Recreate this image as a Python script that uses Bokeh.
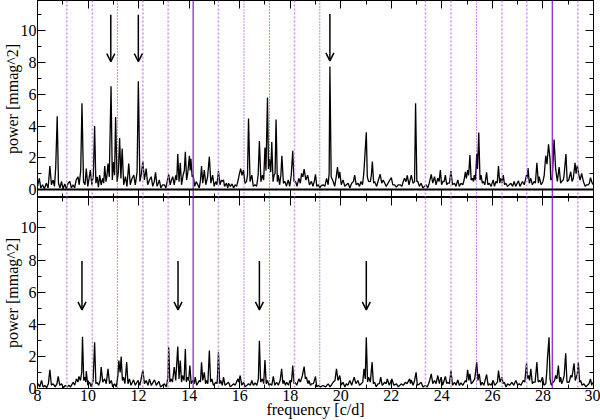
from bokeh.plotting import figure
from bokeh.layouts import column
from bokeh.models import (Span, Arrow, OpenHead, ColumnDataSource, FixedTicker, LinearAxis, Range1d,
                          CustomJSTickFormatter)
from bokeh.embed import file_html
from bokeh.resources import INLINE

# ---------------- data ----------------
top_freq = [8.00, 8.07, 8.13, 8.20, 8.27, 8.35, 8.42, 8.49, 8.55, 8.62, 8.67, 8.72, 8.78, 8.83, 8.89, 8.95, 9.01, 9.08, 9.14, 9.21,
            9.28, 9.34, 9.41, 9.47, 9.53, 9.60, 9.65, 9.71, 9.76, 9.82, 9.88, 9.93, 9.99, 10.04, 10.09, 10.15, 10.21, 10.26, 10.31, 10.36,
            10.41, 10.46, 10.52, 10.58, 10.62, 10.66, 10.71, 10.75, 10.79, 10.84, 10.91, 10.96, 11.01, 11.05, 11.09, 11.15, 11.20, 11.25, 11.30, 11.35,
            11.41, 11.48, 11.54, 11.61, 11.67, 11.74, 11.81, 11.87, 11.94, 11.99, 12.05, 12.11, 12.17, 12.23, 12.30, 12.36, 12.43, 12.50, 12.56, 12.62,
            12.67, 12.73, 12.78, 12.82, 12.88, 12.95, 13.02, 13.08, 13.13, 13.19, 13.25, 13.30, 13.35, 13.41, 13.47, 13.51, 13.55, 13.60, 13.65, 13.70,
            13.76, 13.81, 13.85, 13.90, 13.95, 14.01, 14.04, 14.07, 14.12, 14.16, 14.22, 14.28, 14.34, 14.40, 14.45, 14.49, 14.54, 14.60, 14.66, 14.73,
            14.80, 14.86, 14.93, 14.99, 15.05, 15.10, 15.16, 15.22, 15.28, 15.32, 15.36, 15.40, 15.47, 15.53, 15.56, 15.63, 15.70, 15.76, 15.82, 15.88,
            15.94, 15.99, 16.04, 16.09, 16.15, 16.21, 16.27, 16.31, 16.35, 16.41, 16.48, 16.54, 16.61, 16.67, 16.73, 16.78, 16.84, 16.90, 16.95, 17.00,
            17.04, 17.10, 17.14, 17.18, 17.23, 17.27, 17.32, 17.36, 17.40, 17.44, 17.49, 17.53, 17.58, 17.63, 17.67, 17.73, 17.79, 17.85, 17.92, 17.98,
            18.04, 18.10, 18.15, 18.21, 18.27, 18.34, 18.40, 18.45, 18.50, 18.55, 18.62, 18.69, 18.76, 18.84, 18.90, 18.95, 19.00, 19.05, 19.11, 19.17,
            19.23, 19.30, 19.37, 19.44, 19.50, 19.54, 19.57, 19.62, 19.70, 19.76, 19.82, 19.87, 19.92, 19.96, 20.02, 20.09, 20.16, 20.22, 20.29, 20.36,
            20.43, 20.50, 20.55, 20.61, 20.68, 20.74, 20.80, 20.86, 20.91, 20.95, 21.01, 21.05, 21.10, 21.17, 21.21, 21.25, 21.30, 21.34, 21.42, 21.49,
            21.56, 21.62, 21.68, 21.74, 21.80, 21.87, 21.94, 22.00, 22.06, 22.13, 22.20, 22.27, 22.35, 22.42, 22.47, 22.52, 22.58, 22.63, 22.70, 22.79,
            22.86, 22.92, 22.96, 23.01, 23.05, 23.11, 23.18, 23.25, 23.31, 23.38, 23.44, 23.50, 23.58, 23.64, 23.71, 23.77, 23.84, 23.89, 23.94, 23.99,
            24.04, 24.09, 24.14, 24.19, 24.23, 24.30, 24.36, 24.42, 24.50, 24.56, 24.63, 24.69, 24.76, 24.83, 24.88, 24.93, 24.97, 25.02, 25.06, 25.11,
            25.16, 25.21, 25.25, 25.28, 25.33, 25.38, 25.41, 25.46, 25.51, 25.55, 25.60, 25.64, 25.70, 25.77, 25.82, 25.88, 25.95, 26.03, 26.08, 26.14,
            26.19, 26.24, 26.29, 26.34, 26.38, 26.43, 26.48, 26.53, 26.60, 26.73, 26.80, 26.86, 26.92, 27.03, 27.09, 27.19, 27.26, 27.35, 27.38, 27.41,
            27.46, 27.52, 27.58, 27.65, 27.70, 27.76, 27.82, 27.85, 27.93, 28.00, 28.05, 28.11, 28.16, 28.22, 28.28, 28.31, 28.37, 28.44, 28.50, 28.57,
            28.64, 28.70, 28.74, 28.80, 28.83, 28.91, 28.96, 29.02, 29.10, 29.15, 29.20, 29.27, 29.31, 29.36, 29.42, 29.47, 29.53, 29.60, 29.67, 29.73,
            29.79, 29.84, 29.88, 29.95, 30.00]
top_power = [0.2, 0.71, 0.1, 0.3, 0.05, 0.4, 0.1, 1.48, 0.3, 0.6, 0.2, 1.36, 4.61, 0.4, 0.1, 0.51, 0.05, 0.35, 0.05, 0.4,
             0.51, 0.1, 0.3, 0.1, 0.6, 0.81, 0.3, 1.2, 5.43, 0.5, 0.3, 1.32, 0.2, 0.7, 1.22, 0.3, 0.9, 4.0, 0.4, 0.8,
             0.15, 0.91, 0.3, 0.7, 0.4, 1.48, 0.5, 0.9, 1.63, 0.8, 6.5, 0.6, 1.73, 0.9, 4.57, 0.5, 1.1, 3.25, 0.7, 2.58,
             0.3, 0.81, 0.2, 1.63, 0.3, 0.7, 0.91, 0.3, 1.1, 6.81, 0.5, 1.0, 1.77, 0.6, 1.32, 0.3, 0.6, 0.81, 0.2, 0.5,
             1.08, 0.2, 0.4, 0.61, 0.1, 0.3, 0.3, 0.1, 0.5, 0.96, 0.3, 0.6, 0.81, 0.3, 0.9, 0.6, 2.24, 0.5, 1.69, 0.3,
             0.9, 1.2, 2.38, 0.6, 1.1, 2.13, 1.2, 1.93, 0.8, 0.91, 0.2, 0.5, 0.3, 0.1, 0.6, 1.48, 0.4, 1.22, 0.3, 0.8,
             2.07, 0.4, 0.91, 0.2, 0.5, 0.3, 1.16, 0.3, 0.6, 0.51, 0.61, 0.2, 0.4, 0.1, 0.4, 0.2, 0.35, 0.1, 0.3, 0.2,
             0.6, 1.0, 1.32, 0.9, 1.22, 0.4, 0.5, 0.9, 4.47, 0.5, 0.91, 0.2, 0.3, 0.2, 0.9, 3.05, 0.5, 0.91, 0.6, 2.64,
             1.2, 5.79, 1.3, 1.93, 1.1, 2.99, 0.5, 0.91, 1.0, 4.41, 0.5, 0.91, 0.3, 0.9, 2.13, 0.4, 0.51, 0.2, 0.61, 0.2,
             0.9, 2.44, 0.5, 0.51, 0.2, 0.71, 0.4, 1.02, 0.8, 1.28, 0.6, 0.91, 0.3, 0.51, 0.2, 0.5, 0.96, 0.2, 0.3, 0.1,
             0.25, 0.3, 0.2, 0.71, 0.3, 1.0, 7.74, 0.8, 0.51, 0.2, 0.8, 1.42, 0.7, 1.12, 0.3, 0.61, 0.2, 0.3, 0.4, 0.1,
             0.4, 0.5, 0.91, 0.3, 0.4, 0.2, 0.51, 0.3, 1.0, 2.03, 3.6, 0.8, 0.51, 0.5, 0.9, 1.77, 0.4, 0.51, 0.2, 0.6,
             0.96, 0.4, 0.6, 0.4, 0.2, 0.4, 0.6, 0.75, 0.3, 0.3, 0.15, 0.3, 0.3, 0.2, 0.5, 0.71, 0.5, 0.9, 0.3, 0.91,
             0.4, 0.5, 5.43, 0.5, 0.51, 0.2, 0.4, 0.1, 0.2, 0.3, 0.1, 0.4, 0.96, 0.4, 0.81, 0.3, 0.71, 0.5, 1.22, 0.3,
             0.51, 0.5, 0.91, 0.3, 0.4, 0.4, 1.16, 0.3, 0.4, 0.2, 0.61, 0.2, 0.4, 0.3, 0.6, 1.12, 0.7, 1.22, 0.9, 2.17,
             0.6, 0.71, 0.5, 0.91, 0.6, 2.24, 1.3, 3.59, 0.6, 0.91, 0.4, 0.51, 0.3, 1.08, 0.3, 0.4, 0.2, 0.61, 0.2, 0.51,
             0.4, 1.48, 0.4, 0.71, 0.4, 0.91, 0.3, 0.4, 0.2, 0.4, 0.2, 0.51, 0.2, 0.56, 0.2, 0.51, 0.3, 0.91, 0.7, 1.36,
             0.4, 0.71, 0.3, 0.51, 0.4, 1.69, 0.4, 0.81, 0.3, 0.51, 0.9, 2.13, 1.6, 2.85, 1.93, 0.6, 0.71, 3.15, 1.32, 0.51,
             1.42, 0.4, 0.51, 0.6, 0.81, 2.24, 0.51, 0.6, 1.12, 0.51, 0.7, 1.69, 1.0, 1.52, 0.91, 0.6, 1.02, 0.51, 0.2, 0.3,
             0.3, 0.4, 0.75, 0.4, 0.3]

bot_freq = [8.00, 8.03, 8.09, 8.16, 8.22, 8.29, 8.36, 8.43, 8.49, 8.55, 8.62, 8.70, 8.77, 8.82, 8.88, 8.95, 9.02, 9.10, 9.18, 9.24,
            9.31, 9.41, 9.47, 9.54, 9.60, 9.64, 9.70, 9.75, 9.78, 9.83, 9.87, 9.91, 9.93, 9.99, 10.06, 10.13, 10.20, 10.26, 10.31, 10.35,
            10.42, 10.48, 10.52, 10.58, 10.66, 10.72, 10.79, 10.85, 10.92, 10.98, 11.05, 11.12, 11.18, 11.22, 11.27, 11.31, 11.36, 11.40, 11.46, 11.53,
            11.58, 11.64, 11.70, 11.80, 11.87, 11.97, 12.05, 12.10, 12.17, 12.23, 12.30, 12.37, 12.43, 12.50, 12.63, 12.70, 12.80, 12.87, 13.02, 13.10,
            13.16, 13.19, 13.24, 13.28, 13.34, 13.41, 13.47, 13.55, 13.60, 13.65, 13.70, 13.74, 13.80, 13.85, 13.89, 13.94, 13.98, 14.03, 14.08, 14.14,
            14.20, 14.24, 14.30, 14.40, 14.45, 14.49, 14.54, 14.60, 14.65, 14.69, 14.74, 14.80, 14.85, 14.90, 14.96, 15.06, 15.11, 15.16, 15.21, 15.25,
            15.31, 15.36, 15.42, 15.49, 15.56, 15.63, 15.76, 15.82, 15.93, 15.96, 16.02, 16.08, 16.15, 16.22, 16.35, 16.42, 16.48, 16.54, 16.61, 16.68,
            16.74, 16.78, 16.83, 16.90, 16.95, 17.00, 17.05, 17.10, 17.16, 17.20, 17.27, 17.33, 17.39, 17.46, 17.53, 17.60, 17.66, 17.71, 17.75, 17.81,
            17.86, 17.93, 17.99, 18.05, 18.10, 18.15, 18.19, 18.26, 18.34, 18.40, 18.48, 18.55, 18.60, 18.64, 18.70, 18.74, 18.80, 18.84, 18.92, 19.00,
            19.05, 19.11, 19.20, 19.30, 19.40, 19.50, 19.58, 19.70, 19.77, 19.83, 19.89, 19.96, 20.02, 20.09, 20.16, 20.22, 20.28, 20.36, 20.43, 20.53,
            20.60, 20.68, 20.74, 20.81, 20.87, 20.92, 20.97, 21.01, 21.06, 21.10, 21.17, 21.24, 21.29, 21.34, 21.40, 21.47, 21.53, 21.58, 21.64, 21.74,
            21.80, 21.84, 21.92, 22.02, 22.10, 22.20, 22.28, 22.39, 22.47, 22.56, 22.62, 22.72, 22.76, 22.79, 22.86, 22.92, 22.98, 23.03, 23.12, 23.18,
            23.25, 23.34, 23.42, 23.50, 23.58, 23.64, 23.71, 23.77, 23.84, 23.90, 23.97, 24.03, 24.09, 24.14, 24.19, 24.23, 24.30, 24.36, 24.42, 24.50,
            24.56, 24.63, 24.69, 24.76, 24.83, 24.93, 24.97, 25.02, 25.07, 25.11, 25.16, 25.22, 25.30, 25.38, 25.43, 25.48, 25.54, 25.59, 25.66, 25.77,
            25.83, 25.88, 25.95, 26.03, 26.09, 26.14, 26.20, 26.24, 26.30, 26.38, 26.42, 26.47, 26.54, 26.60, 26.68, 26.77, 26.84, 26.93, 27.00, 27.06,
            27.13, 27.22, 27.28, 27.35, 27.39, 27.43, 27.47, 27.52, 27.58, 27.62, 27.69, 27.76, 27.81, 27.85, 27.91, 27.98, 28.04, 28.11, 28.15, 28.18,
            28.24, 28.28, 28.33, 28.40, 28.46, 28.50, 28.55, 28.61, 28.66, 28.70, 28.74, 28.79, 28.84, 28.90, 28.95, 28.99, 29.04, 29.10, 29.15, 29.23,
            29.28, 29.32, 29.36, 29.40, 29.45, 29.49, 29.55, 29.62, 29.70, 29.75, 29.82, 29.88, 29.93, 29.95, 30.00]
bot_power = [0.2, 0.29, 0.1, 0.5, 0.1, 0.19, 0.05, 0.3, 1.16, 0.2, 0.29, 0.1, 0.3, 0.75, 0.2, 0.29, 0.05, 0.19, 0.1, 0.2,
             0.1, 0.39, 0.2, 0.6, 0.4, 0.75, 0.5, 1.0, 3.23, 0.5, 0.71, 0.4, 1.08, 0.2, 0.39, 0.1, 0.5, 2.88, 0.3, 0.39,
             0.2, 0.5, 1.33, 0.4, 0.6, 0.3, 1.22, 0.3, 0.5, 0.1, 0.29, 0.1, 0.8, 1.74, 1.0, 1.99, 0.5, 0.71, 0.3, 1.64,
             0.3, 0.6, 0.2, 0.54, 0.2, 0.5, 0.2, 0.6, 1.16, 0.3, 0.5, 0.2, 0.6, 0.2, 0.54, 0.2, 0.45, 0.1, 0.29, 0.1,
             0.7, 2.57, 0.4, 0.6, 0.4, 1.33, 0.5, 2.61, 0.6, 1.74, 0.4, 0.81, 0.5, 2.46, 0.4, 0.71, 0.5, 1.43, 0.3, 0.5,
             0.3, 0.71, 0.2, 0.5, 0.4, 1.64, 0.5, 1.01, 0.3, 0.5, 0.3, 2.36, 0.4, 0.6, 0.2, 0.39, 0.3, 2.26, 0.3, 0.5,
             0.2, 0.71, 0.2, 0.3, 0.39, 0.1, 0.29, 0.2, 0.6, 0.4, 0.81, 0.2, 0.39, 0.1, 0.29, 0.2, 0.5, 0.2, 0.35, 0.2,
             0.6, 2.98, 0.4, 0.6, 0.3, 1.78, 0.3, 0.5, 0.2, 0.29, 0.2, 0.75, 0.2, 0.39, 0.2, 0.5, 1.22, 0.3, 0.5, 0.2,
             0.39, 0.2, 0.5, 0.4, 1.43, 0.3, 0.39, 0.2, 0.6, 0.4, 0.8, 1.37, 0.6, 0.71, 0.3, 0.5, 0.2, 0.29, 0.3, 0.75,
             0.1, 0.19, 0.1, 0.19, 0.1, 0.29, 0.1, 0.39, 0.5, 1.22, 0.5, 0.81, 0.2, 0.39, 0.1, 0.29, 0.2, 0.5, 0.2, 0.71,
             0.3, 0.5, 0.2, 0.29, 0.4, 1.22, 0.6, 3.19, 0.4, 0.71, 0.4, 1.64, 0.3, 0.39, 0.1, 0.29, 0.3, 0.71, 0.2, 0.39,
             0.3, 0.6, 0.2, 0.6, 0.2, 0.29, 0.1, 0.29, 0.2, 0.39, 0.3, 0.6, 0.3, 0.54, 0.2, 0.5, 1.01, 0.2, 0.29, 0.39,
             0.1, 0.19, 0.1, 0.4, 0.91, 0.3, 0.5, 0.3, 0.81, 0.3, 0.71, 0.2, 0.5, 0.75, 0.3, 0.39, 0.3, 1.12, 0.2, 0.39,
             0.2, 0.54, 0.2, 0.35, 0.2, 0.5, 0.4, 1.16, 0.5, 0.91, 0.3, 0.39, 0.6, 1.64, 0.5, 0.91, 0.2, 0.39, 0.2, 0.87,
             0.2, 0.29, 0.2, 0.5, 0.2, 0.29, 0.4, 1.12, 0.4, 0.71, 0.3, 0.39, 0.1, 0.29, 0.2, 0.39, 0.2, 0.5, 0.2, 0.29,
             0.2, 0.5, 0.4, 1.57, 0.6, 0.81, 0.5, 1.22, 0.3, 0.39, 0.4, 1.64, 0.4, 0.5, 0.4, 0.71, 0.2, 0.29, 1.0, 1.9,
             3.19, 0.6, 0.2, 0.39, 0.5, 0.81, 0.6, 1.43, 0.4, 0.71, 0.3, 0.5, 0.8, 2.2, 0.4, 0.39, 0.4, 0.81, 0.7, 1.57,
             0.5, 0.71, 0.9, 1.64, 0.4, 0.5, 0.2, 0.29, 0.1, 0.19, 0.3, 0.6, 0.2, 0.35, 0.3]

# marked vertical lines (frequencies, c/d)
dotted_light = [9.16, 10.17, 12.17, 13.17, 15.16, 18.17, 23.35, 24.36, 26.38, 27.36, 29.38]
dotted_dark = [11.16, 16.17, 17.18, 19.17, 25.37]
solid_lines = [14.16, 28.37]

# arrows (frequency, start power, end power)
top_arrow_f = [10.90, 11.99, 19.57]
top_arrow_y0 = [11.0, 11.0, 11.05]
top_arrow_y1 = [8.05, 8.05, 8.1]
bot_arrow_f = [9.76, 13.56, 16.78, 21.01]
bot_arrow_y0 = [7.95, 7.95, 7.95, 7.95]
bot_arrow_y1 = [4.9, 4.9, 4.9, 4.9]

x_major = [8, 10, 12, 14, 16, 18, 20, 22, 24, 26, 28, 30]
x_minor = list(range(8, 31))
y_major = [0, 2, 4, 6, 8, 10]
y_minor = list(range(0, 12))

FONT = "Liberation Serif"
BLANK = CustomJSTickFormatter(code="return '';")


def style_axis(ax, labels=True):
    ax.major_tick_in = 8
    ax.major_tick_out = 0
    ax.minor_tick_in = 4
    ax.minor_tick_out = 0
    ax.axis_line_color = None
    ax.major_tick_line_color = "black"
    ax.minor_tick_line_color = "black"
    ax.major_label_text_font = FONT
    ax.axis_label_text_font = FONT
    ax.axis_label_text_font_style = "normal"
    ax.major_label_text_color = "black"
    ax.axis_label_text_color = "black"
    if labels:
        ax.major_label_text_font_size = "16px"
        ax.axis_label_text_font_size = "16px"
        ax.major_label_standoff = 1
        ax.axis_label_standoff = -3
    else:
        ax.formatter = BLANK
        ax.major_label_text_font_size = "1px"
        ax.major_label_standoff = 0
        ax.axis_label = None


def make_panel(freq, power, ytop, ybot, arrow_f, ay0, ay1, height, bottom):
    p = figure(width=600, height=height, output_backend="svg", toolbar_location=None,
               x_range=Range1d(8, 30), y_range=Range1d(ybot, ytop),
               min_border_left=35, min_border_right=7, min_border_top=0, min_border_bottom=0)
    p.grid.visible = False
    p.outline_line_color = "black"
    p.outline_line_width = 1
    p.background_fill_color = "white"
    p.border_fill_color = "white"

    p.xaxis.ticker = FixedTicker(ticks=x_major, minor_ticks=x_minor)
    p.yaxis.ticker = FixedTicker(ticks=y_major, minor_ticks=y_minor)
    style_axis(p.yaxis[0], True)
    p.yaxis.axis_label = "power [mmag^2]"
    if bottom:
        style_axis(p.xaxis[0], True)
        p.xaxis.axis_label = "frequency [c/d]"
    else:
        style_axis(p.xaxis[0], False)

    ra = LinearAxis(ticker=FixedTicker(ticks=y_major, minor_ticks=y_minor))
    style_axis(ra, False)
    p.add_layout(ra, "right")
    ta = LinearAxis(ticker=FixedTicker(ticks=x_major, minor_ticks=x_minor))
    style_axis(ta, False)
    p.add_layout(ta, "above")

    for f in dotted_light:
        p.add_layout(Span(location=f, dimension="height", line_color="#cf8ef0",
                          line_width=1.5, line_dash="2 2"))
    for f in dotted_dark:
        p.add_layout(Span(location=f, dimension="height", line_color="#8a10c8",
                          line_width=1, line_dash="1 2"))
    for f in solid_lines:
        p.add_layout(Span(location=f, dimension="height", line_color="#8e2cd0",
                          line_width=1.3))

    p.line(freq, power, line_color="black", line_width=1.3)

    src = ColumnDataSource(dict(x=arrow_f, y0=ay0, y1=ay1))
    p.add_layout(Arrow(source=src, x_start="x", y_start="y0", x_end="x", y_end="y1",
                       line_color="black", line_width=1.5,
                       end=OpenHead(size=8, line_width=1.5, line_color="black")))
    return p


p1 = make_panel(top_freq, top_power, 11.9, -0.5, top_arrow_f, top_arrow_y0, top_arrow_y1, 197, False)
p1.add_layout(Span(location=0, dimension="width", line_color="black", line_width=2))
p2 = make_panel(bot_freq, bot_power, 11.9, 0, bot_arrow_f, bot_arrow_y0, bot_arrow_y1, 223, True)
p2.x_range = p1.x_range

layout = column(p1, p2, spacing=0)
open("out.html", "w").write(file_html(layout, INLINE))
